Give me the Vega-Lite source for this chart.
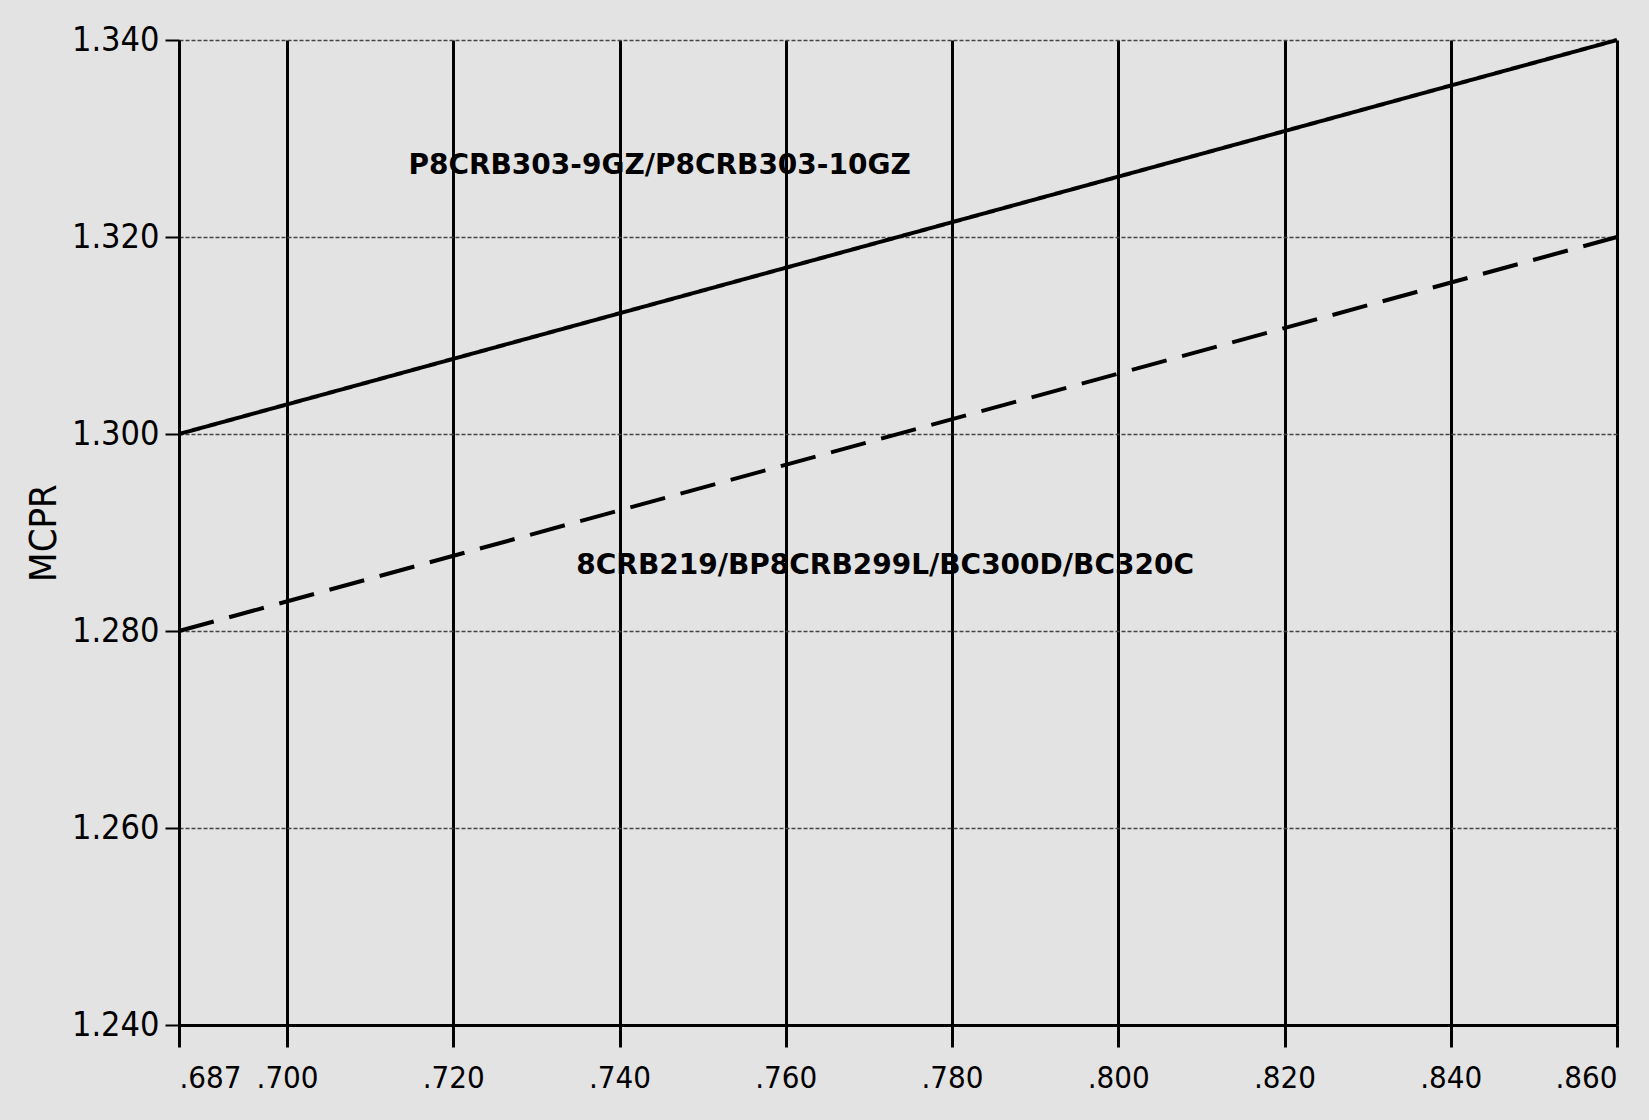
{
  "$schema": "https://vega.github.io/schema/vega-lite/v6.json",
  "width": 1438,
  "height": 985,
  "autosize": "none",
  "padding": {"left": 179, "top": 40, "right": 32, "bottom": 95},
  "background": "#e3e3e3",
  "config": {
    "view": {"stroke": null},
    "font": "DejaVu Sans Condensed, sans-serif"
  },
  "datasets": {
    "lines": [
      {"x": 0.687, "MCPR": 1.300, "series": "P8CRB303-9GZ/P8CRB303-10GZ"},
      {"x": 0.860, "MCPR": 1.340, "series": "P8CRB303-9GZ/P8CRB303-10GZ"},
      {"x": 0.687, "MCPR": 1.280, "series": "8CRB219/BP8CRB299L/BC300D/BC320C"},
      {"x": 0.860, "MCPR": 1.320, "series": "8CRB219/BP8CRB299L/BC300D/BC320C"}
    ],
    "labels": [
      {"x": 0.7146, "MCPR": 1.3272, "label": "P8CRB303-9GZ/P8CRB303-10GZ"},
      {"x": 0.7348, "MCPR": 1.2866, "label": "8CRB219/BP8CRB299L/BC300D/BC320C"}
    ]
  },
  "layer": [
    {
      "data": {"name": "lines"},
      "mark": {"type": "line", "color": "black", "strokeWidth": 4},
      "encoding": {
        "x": {
          "field": "x", "type": "quantitative",
          "scale": {"domain": [0.687, 0.86], "nice": false, "zero": false},
          "axis": {
            "title": null,
            "values": [0.687, 0.70, 0.72, 0.74, 0.76, 0.78, 0.80, 0.82, 0.84, 0.86],
            "labelExpr": "slice(format(datum.value, '.3f'), 1)",
            "grid": true, "gridColor": "black", "gridWidth": 3, "gridOpacity": 1,
            "domainColor": "black", "domainWidth": 3,
            "tickColor": "black", "tickWidth": 3, "tickSize": 22,
            "labelFontSize": 31, "labelColor": "black", "labelPadding": 16,
            "labelFont": "DejaVu Sans Condensed, sans-serif",
            "labelOverlap": false
          }
        },
        "y": {
          "field": "MCPR", "type": "quantitative",
          "scale": {"domain": [1.24, 1.34], "nice": false, "zero": false},
          "axis": {
            "title": "MCPR",
            "titleFontSize": 38, "titleFontWeight": "normal", "titleColor": "black",
            "titlePadding": 8,
            "titleFont": "DejaVu Sans Condensed, sans-serif",
            "values": [1.24, 1.26, 1.28, 1.30, 1.32, 1.34],
            "format": ".3f",
            "grid": true, "gridColor": "#444444", "gridWidth": 1.5, "gridDash": [4, 2], "gridOpacity": 1,
            "domainColor": "black", "domainWidth": 3,
            "tickColor": "black", "tickWidth": 2, "tickSize": 14,
            "labelFontSize": 34, "labelColor": "black", "labelPadding": 6,
            "labelFont": "DejaVu Sans Condensed, sans-serif"
          }
        },
        "strokeDash": {
          "field": "series", "type": "nominal",
          "scale": {
            "domain": ["P8CRB303-9GZ/P8CRB303-10GZ", "8CRB219/BP8CRB299L/BC300D/BC320C"],
            "range": [[1, 0], [36, 16]]
          },
          "legend": null
        }
      }
    },
    {
      "data": {"name": "labels"},
      "mark": {
        "type": "text", "align": "left", "baseline": "middle",
        "font": "DejaVu Sans", "fontWeight": "bold", "fontSize": 28, "color": "black"
      },
      "encoding": {
        "x": {"field": "x", "type": "quantitative"},
        "y": {"field": "MCPR", "type": "quantitative"},
        "text": {"field": "label"}
      }
    }
  ]
}
